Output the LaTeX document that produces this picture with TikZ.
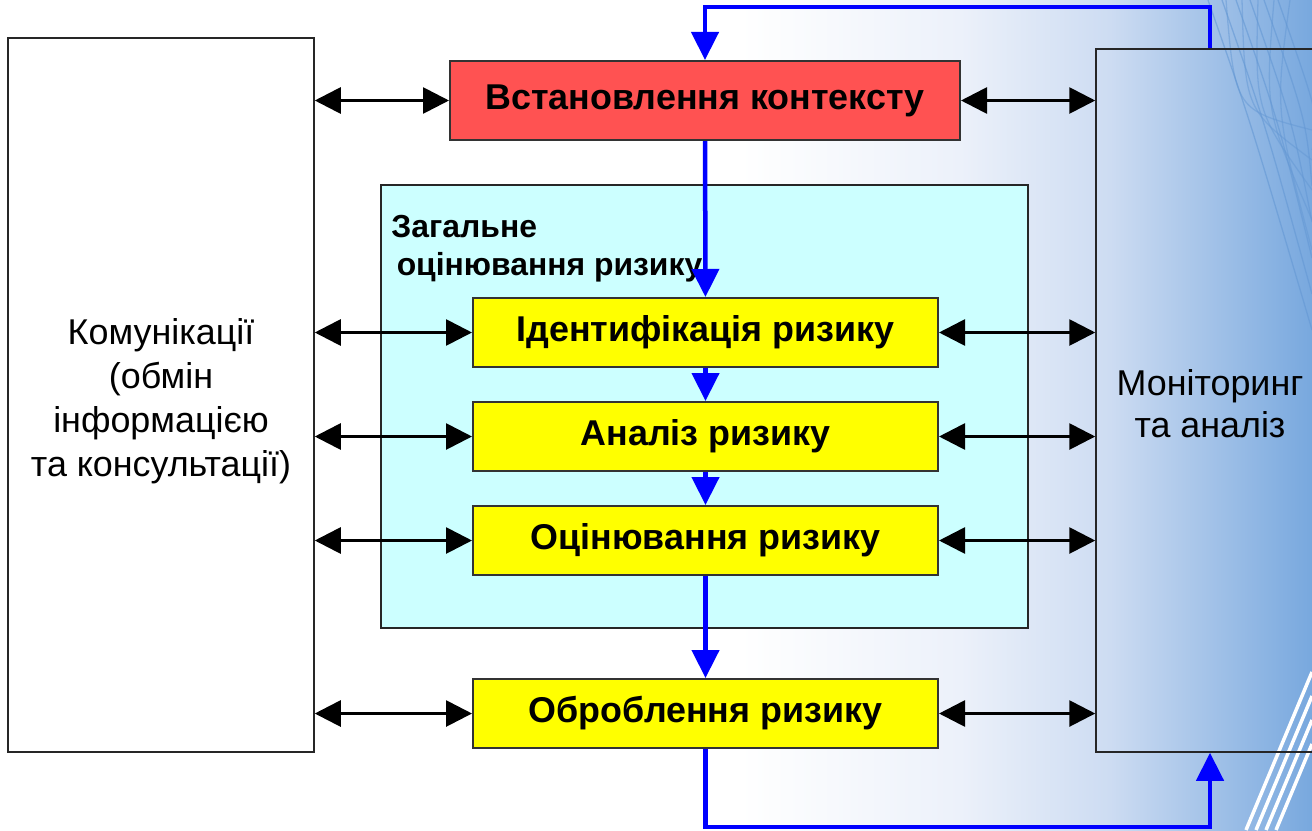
\documentclass[tikz,border=0pt]{standalone}
\usepackage{fontspec}
\setmainfont{Liberation Sans}
\usetikzlibrary{shapes, arrows.meta, calc, positioning}
\definecolor{ctxred}{RGB}{255,82,82}
\definecolor{riskyellow}{RGB}{255,255,0}
\definecolor{generalcyan}{RGB}{204,255,255}
\definecolor{slidelight}{RGB}{236,241,250}
\definecolor{slidemid}{RGB}{205,220,242}
\definecolor{slideblue}{RGB}{120,168,222}
\definecolor{slideline}{RGB}{100,152,212}
\tikzstyle{line} = [draw, line width=2.8bp, {Triangle[length=26bp, width=26bp]}-{Triangle[length=26bp, width=26bp]}]
\tikzstyle{flow} = [draw, blue, line width=4.5bp, -{Triangle[length=28bp, width=27bp]}]
\tikzstyle{block} = [rectangle, draw=black!80, line width=2bp, text centered, fill=riskyellow, minimum width=465bp, minimum height=69bp, font=\fontsize{36}{40}\selectfont\bfseries]
\tikzstyle{side} = [rectangle, draw=black!85, line width=1.5bp, minimum width=306bp]
\tikzstyle{sidetext} = [align=center, inner sep=0pt, font=\fontsize{36}{44}\selectfont]

\begin{document}
\begin{tikzpicture}[x=1bp, y=-1bp, node distance=33bp]
\clip (0,0) rectangle (1312,830);
% slide background
\fill[white] (0,0) rectangle (1312,830);
\shade[left color=white, right color=slidelight] (740,0) rectangle (960,830);
\shade[left color=slidelight, right color=slidemid] (960,0) rectangle (1110,830);
\shade[left color=slidemid, right color=slideblue] (1110,0) rectangle (1312,830);
\foreach \i in {0,...,5}
  \draw[slideline, opacity=0.6, line width=1.3bp] (1208+14*\i,0) .. controls (1250+14*\i,120) .. (1312,330-36*\i);
\foreach \i in {0,...,4}
  \draw[slideline, opacity=0.5, line width=1.3bp] (1290-16*\i,0) .. controls (1275-10*\i,110) .. (1312,250-30*\i);
\foreach \i in {0,...,3}
  \draw[white, line width=3.5bp] (1246+10*\i,830) -- (1312,672+24*\i);

% side boxes
\node [side, fill=white, minimum height=714bp] (comm) at (161,395) {};
\node [sidetext] (commtext) at ($(comm.center)+(0,6)$)
  {Комунікації\\(обмін\\інформацією\\та консультації)};
\node [side, minimum width=228bp, minimum height=703bp] (monitor) at (1210,400.5) {};
\node [sidetext, font=\fontsize{36}{42}\selectfont] (monitortext) at ($(monitor.center)+(0,3)$)
  {Моніторинг\\ та аналіз};

% context and general assessment
\node [block, fill=ctxred, minimum width=510bp, minimum height=79bp] (context) at (705,100.5) {Встановлення контексту};
\node [rectangle, draw=black!85, line width=1.5bp, fill=generalcyan, minimum width=647bp, minimum height=443bp] (general) at (704.5,406.5) {};
\node [anchor=north west, align=left, inner sep=0pt, font=\fontsize{32}{38}\selectfont\bfseries] (generaltitle) at ($(general.north west)+(11,31)$)
  {Загальне\\ \,оцінювання ризику};

% risk steps
\node [block] (ident) at (705.5,332.5) {Ідентифікація ризику};
\node [block, below=of ident] (analysis) {Аналіз ризику};
\node [block, below=of analysis] (evaluation) {Оцінювання ризику};
\node [block, below=102bp of evaluation] (treatment) {Оброблення ризику};

% exchange with both sides
\foreach \n in {context, ident, analysis, evaluation, treatment} {
  \path [line] (comm.east |- \n) -- (\n.west);
  \path [line] (\n.east) -- (\n.east -| monitor.west);
}

% main flow and feedback
\coordinate (top) at (0,7);
\coordinate (bottom) at (0,827);
\path [flow] (context) -- (ident);
\path [flow] (ident) -- (analysis);
\path [flow] (analysis) -- (evaluation);
\path [flow] (evaluation) -- (treatment);
\path [flow] (treatment.south) -- (treatment.south |- bottom) -| (monitor.south);
\path [flow] (monitor.north) -- (monitor.north |- top) -| (context.north);
\end{tikzpicture}
\end{document}
